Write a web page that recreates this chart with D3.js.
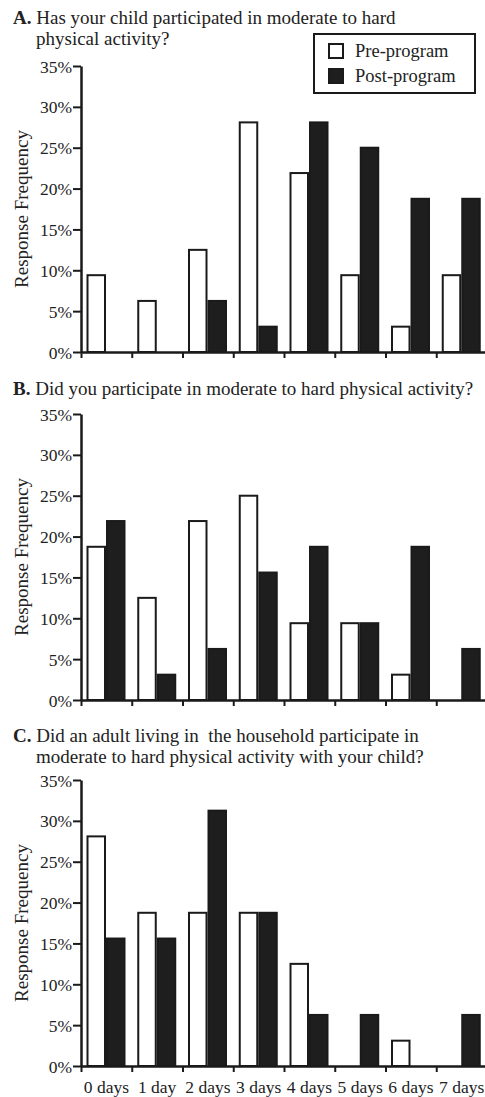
<!DOCTYPE html>
<html>
<head>
<meta charset="utf-8">
<script src="https://cdn.jsdelivr.net/npm/d3@7"></script>
<style>
  body { margin: 0; background: #fff; }
  svg text { font-family: "Liberation Serif", "Times New Roman", serif; fill: #222; }
</style>
</head>
<body>
<svg id="chart"></svg>
<script>
// Days per week categories
var days = ["0 days", "1 day", "2 days", "3 days", "4 days", "5 days", "6 days", "7 days"];
var groups = ["Pre-program", "Post-program"];
var yTicks = [0, 5, 10, 15, 20, 25, 30, 35];

// A. child activity
var childPre  = [9.4, 6.25, 12.5, 28.1, 21.9, 9.4, 3.1, 9.4];
var childPost = [0, 0, 6.25, 3.1, 28.1, 25, 18.75, 18.75];
// B. parent activity
var parentPre  = [18.75, 12.5, 21.9, 25, 9.4, 9.4, 3.1, 0];
var parentPost = [21.9, 3.1, 6.25, 15.6, 18.75, 9.4, 18.75, 6.25];
// C. adult with child
var adultPre  = [28.1, 18.75, 18.75, 18.75, 12.5, 0, 3.1, 0];
var adultPost = [15.6, 15.6, 31.25, 18.75, 6.25, 6.25, 0, 6.25];

var width = 485, height = 1097;
var left = 81, right = 487;

var svg = d3.select("#chart")
  .attr("width", width)
  .attr("height", height);

var x = d3.scaleBand()
  .domain(days)
  .range([left, right]);

var xSub = d3.scaleBand()
  .domain(groups)
  .range([5.5, 44.5]);

var xEdge = d3.scaleLinear()
  .domain([0, days.length])
  .range([left, right]);

var fills = {"Pre-program": "#fff", "Post-program": "#1e1e1e"};

var panels = [
  {letter: "A.", lines: ["Has your child participated in moderate to hard", "physical activity?"],
   pre: childPre, post: childPost, top: 66, bottom: 352, titleY: 24},
  {letter: "B.", lines: ["Did you participate in moderate to hard physical activity?"],
   pre: parentPre, post: parentPost, top: 414, bottom: 700, titleY: 395},
  {letter: "C.", lines: ["Did an adult living in  the household participate in", "moderate to hard physical activity with your child?"],
   pre: adultPre, post: adultPost, top: 780, bottom: 1066, titleY: 742}
];

panels.forEach(function(p, idx){
  var y = d3.scaleLinear()
    .domain([0, 35])
    .range([p.bottom, p.top]);

  var g = svg.append("g");

  // title
  var title = g.append("text")
    .attr("y", p.titleY)
    .style("font-size", "19px")
    .attr("xml:space", "preserve");
  title.append("tspan")
    .attr("x", 13)
    .style("font-weight", "bold")
    .text(p.letter);
  title.append("tspan")
    .text(" " + p.lines[0]);
  if (p.lines.length > 1){
    g.append("text")
      .attr("x", 36)
      .attr("y", p.titleY + 21)
      .style("font-size", "19px")
      .text(p.lines[1]);
  }

  // bars
  var data = days.map(function(d, i){
    return {day: d, vals: [{g: "Pre-program", v: p.pre[i]}, {g: "Post-program", v: p.post[i]}]};
  });

  var cat = g.selectAll(".cat")
    .data(data)
    .enter()
    .append("g")
    .attr("transform", function(d){ return "translate(" + x(d.day) + ",0)"; });

  cat.selectAll("rect")
    .data(function(d){ return d.vals.filter(function(e){ return e.v > 0; }); })
    .enter()
    .append("rect")
    .attr("x", function(d){ return xSub(d.g) + 1; })
    .attr("width", xSub.bandwidth() - 2)
    .attr("y", function(d){ return y(d.v); })
    .attr("height", function(d){ return y(0) - y(d.v); })
    .attr("fill", function(d){ return fills[d.g]; })
    .attr("stroke", "#1a1a1a")
    .attr("stroke-width", 2);

  // y axis
  var yAxis = g.append("g")
    .attr("transform", "translate(" + left + ",0)")
    .call(d3.axisLeft(y).tickValues(yTicks).tickSize(8).tickSizeOuter(0).tickPadding(1)
      .tickFormat(function(d){ return d + "%"; }));
  yAxis.selectAll("text").style("font-size", "17.5px").attr("fill", "#222").attr("dy", "0.35em");
  yAxis.selectAll("line").attr("stroke", "#1a1a1a").attr("stroke-width", 2);
  yAxis.select(".domain").attr("stroke", "#1a1a1a").attr("stroke-width", 2.5);

  // x axis with ticks at category boundaries
  var xAxis = g.append("g")
    .attr("transform", "translate(0," + p.bottom + ")")
    .call(d3.axisBottom(xEdge).tickValues(d3.range(days.length)).tickSize(6).tickSizeOuter(0)
      .tickFormat(""));
  xAxis.selectAll("line").attr("stroke", "#1a1a1a").attr("stroke-width", 2);
  xAxis.select(".domain").attr("stroke", "#1a1a1a").attr("stroke-width", 2.5);

  // y axis label
  g.append("text")
    .attr("transform", "translate(28," + ((p.top + p.bottom) / 2) + ") rotate(-90)")
    .style("text-anchor", "middle")
    .style("font-size", "19px")
    .text("Response Frequency");

  // category labels only on last panel
  if (idx == panels.length - 1){
    g.selectAll(".lab")
      .data(days)
      .enter()
      .append("text")
      .attr("x", function(d){ return x(d) + x.bandwidth() / 2; })
      .attr("y", p.bottom + 27)
      .style("text-anchor", "middle")
      .style("font-size", "17.5px")
      .text(function(d){ return d; });
  }
});

// legend
var legend = svg.append("g");
legend.append("rect")
  .attr("x", 314).attr("y", 34)
  .attr("width", 161).attr("height", 59)
  .attr("fill", "#fff")
  .attr("stroke", "#1a1a1a")
  .attr("stroke-width", 2);

var item = legend.selectAll(".item")
  .data(groups)
  .enter()
  .append("g")
  .attr("transform", function(d, i){ return "translate(328," + (43 + i * 25) + ")"; });

item.append("rect")
  .attr("x", 1).attr("y", 1)
  .attr("width", 14).attr("height", 14)
  .attr("fill", function(d){ return fills[d]; })
  .attr("stroke", "#1a1a1a")
  .attr("stroke-width", 2);

item.append("text")
  .attr("x", 27)
  .attr("y", 14)
  .style("font-size", "18.5px")
  .text(function(d){ return d; });
</script>
</body>
</html>
